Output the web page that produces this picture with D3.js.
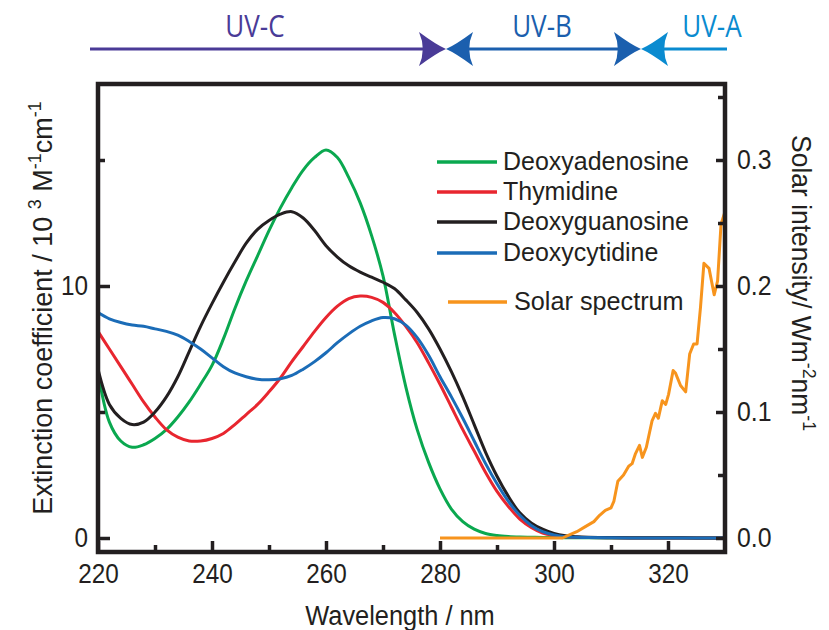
<!DOCTYPE html>
<html><head><meta charset="utf-8">
<script src="https://cdn.jsdelivr.net/npm/d3@7"></script>
<style>
body{margin:0;background:#fff}
svg{display:block;font-family:"Liberation Sans",Arial,sans-serif}
</style>
</head><body>
<svg id="chart" width="829" height="630"></svg>
<script>
// Absorption spectra of the four nucleosides (10^3 M^-1 cm^-1)
const wavelengths = [220,222,224,226,228,230,232,234,236,238,240,242,244,246,248,250,252,254,256,258,260,262,264,266,268,270,272,274,276,278,280,282,284,286,288,290,292,294,296,298,300,302,304,306,310,315,320,325,330];
const deoxyadenosine = [6.6,4.6,3.85,3.6,3.7,3.95,4.3,4.8,5.4,6.1,6.85,7.9,9.1,10.2,11.2,12.2,13.1,13.9,14.6,15.1,15.4,15.1,14.3,13.3,12.0,10.4,8.1,6.0,4.3,3.0,1.95,1.15,0.65,0.35,0.18,0.1,0.06,0.04,0.03,0.02,0.02,0.01,0.01,0.01,0,0,0,0,0];
const thymidine = [8.2,7.5,6.8,6.1,5.4,4.8,4.3,4.0,3.85,3.85,3.95,4.15,4.5,4.9,5.3,5.8,6.35,7.0,7.6,8.2,8.75,9.2,9.5,9.6,9.55,9.35,8.95,8.4,7.75,6.95,6.1,5.2,4.3,3.45,2.6,1.85,1.25,0.75,0.42,0.2,0.1,0.05,0.03,0.02,0.01,0,0,0,0];
const deoxyguanosine = [6.7,5.3,4.75,4.5,4.6,5.0,5.6,6.4,7.4,8.4,9.3,10.15,10.95,11.7,12.25,12.6,12.85,12.95,12.7,12.2,11.6,11.15,10.8,10.55,10.35,10.15,9.9,9.45,8.95,8.3,7.5,6.6,5.6,4.5,3.4,2.45,1.65,1.0,0.6,0.35,0.18,0.09,0.05,0.03,0.02,0.01,0.01,0,0];
const deoxycytidine = [8.95,8.7,8.55,8.45,8.4,8.3,8.2,8.05,7.8,7.5,7.15,6.8,6.55,6.4,6.3,6.28,6.32,6.45,6.7,7.0,7.35,7.75,8.1,8.4,8.62,8.75,8.7,8.45,7.95,7.25,6.4,5.6,4.75,3.85,2.95,2.15,1.45,0.9,0.5,0.25,0.12,0.05,0.03,0.02,0.01,0,0,0,0];

// Ground-level solar spectrum (W m^-2 nm^-1)
const solarWavelengths = [280,301.5,302.5,304,305.5,307,308,309,310,310.5,311.2,312.2,313.1,313.7,314.3,315,315.5,316.2,317.2,317.8,318.3,319,319.6,320.1,320.9,321.3,322.2,323.1,323.8,324.5,325.1,325.7,326.3,327.2,328.1,328.7,329.3,330];
const solarIntensity = [0,0,0.002,0.005,0.009,0.013,0.018,0.022,0.024,0.029,0.045,0.050,0.057,0.059,0.067,0.0735,0.064,0.072,0.093,0.099,0.095,0.109,0.106,0.114,0.133,0.131,0.121,0.116,0.146,0.154,0.154,0.183,0.218,0.214,0.193,0.204,0.249,0.259];

const seriesNames = ["Deoxyadenosine","Thymidine","Deoxyguanosine","Deoxycytidine"];
const seriesValues = [deoxyadenosine, thymidine, deoxyguanosine, deoxycytidine];
const seriesColors = ["#0aa84f","#e8262f","#231f20","#1b6cb7"];
const solarLabel = "Solar spectrum";
const solarColor = "#f7941d";

const xMajorTicks = [220,240,260,280,300,320];
const xMinorTicks = [230,250,270,290,310];
const yLeftMajor = [0,10];
const yLeftMinor = [5,15];
const yRightMajor = [0,0.1,0.2,0.3];
const yRightMinor = [0.05,0.15,0.25,0.35];

const uvBands = [
  {name:"UV-C", color:"#4a3b97"},
  {name:"UV-B", color:"#1b5fae"},
  {name:"UV-A", color:"#0a8bd0"}
];

const ink = "#231f20";
const box = {left:98, right:725, top:84, bottom:552};

const svg = d3.select("#chart");
const x = d3.scaleLinear().domain([220,330]).range([box.left, box.right]);
const yL = d3.scaleLinear().domain([0,10]).range([538,286]);
const yR = d3.scaleLinear().domain([0,0.3]).range([538,160]);

function condense(sel, k){
  sel.each(function(){
    const L = this.getComputedTextLength();
    d3.select(this).attr("textLength", L*k).attr("lengthAdjust","spacingAndGlyphs");
  });
}

// Spectra
const line = d3.line().x(d=>x(d[0])).y(d=>yL(d[1])).curve(d3.curveCatmullRom.alpha(0.5));
const gLines = svg.append("g");
seriesValues.forEach((vals,i)=>{
  gLines.append("path")
    .attr("d", line(wavelengths.map((w,j)=>[w, vals[j]])))
    .attr("fill","none").attr("stroke",seriesColors[i]).attr("stroke-width",3)
    .attr("stroke-linejoin","round");
});
const solarLine = d3.line().x(d=>x(d[0])).y(d=>yR(d[1]));
gLines.append("path")
  .attr("d", solarLine(solarWavelengths.map((w,j)=>[w, solarIntensity[j]])))
  .attr("fill","none").attr("stroke",solarColor).attr("stroke-width",3)
  .attr("stroke-linejoin","round");

// Axes with inward ticks
function styleAxis(g){
  g.select(".domain").remove();
  g.selectAll(".tick line").attr("stroke",ink).attr("stroke-width",3.5);
  g.selectAll(".tick text").attr("fill",ink).style("font-size","27px")
   .style("font-family",'"Liberation Sans",Arial,sans-serif');
}
svg.append("g").attr("transform",`translate(0,${box.bottom})`)
  .call(d3.axisBottom(x).tickValues(xMinorTicks).tickSize(-7).tickFormat(""))
  .call(styleAxis);
const gx = svg.append("g").attr("transform",`translate(0,${box.bottom})`)
  .call(d3.axisBottom(x).tickValues(xMajorTicks).tickSize(-11).tickPadding(12).tickFormat(d3.format("d")))
  .call(styleAxis);
condense(gx.selectAll(".tick text"), 0.9);

svg.append("g").attr("transform",`translate(${box.left},0)`)
  .call(d3.axisLeft(yL).tickValues(yLeftMinor).tickSize(-7).tickFormat(""))
  .call(styleAxis);
const gyl = svg.append("g").attr("transform",`translate(${box.left},0)`)
  .call(d3.axisLeft(yL).tickValues(yLeftMajor).tickSize(-12).tickPadding(10).tickFormat(d3.format("d")))
  .call(styleAxis);
condense(gyl.selectAll(".tick text"), 0.9);

svg.append("g").attr("transform",`translate(${box.right},0)`)
  .call(d3.axisRight(yR).tickValues(yRightMinor).tickSize(-7).tickFormat(""))
  .call(styleAxis);
const gyr = svg.append("g").attr("transform",`translate(${box.right},0)`)
  .call(d3.axisRight(yR).tickValues(yRightMajor).tickSize(-9).tickPadding(12).tickFormat(d3.format(".1f")))
  .call(styleAxis);
condense(gyr.selectAll(".tick text"), 0.92);

// Frame
svg.append("rect").attr("x",box.left).attr("y",box.top)
  .attr("width",box.right-box.left).attr("height",box.bottom-box.top)
  .attr("fill","none").attr("stroke",ink).attr("stroke-width",4.5);

// Axis titles
const xt = svg.append("text").attr("x",400).attr("y",625).attr("text-anchor","middle")
  .attr("fill",ink).style("font-size","27px").text("Wavelength / nm");
condense(xt, 0.94);

const ylab = svg.append("g").attr("transform","translate(52,308) rotate(-90)")
  .append("text").attr("text-anchor","middle").attr("fill",ink).style("font-size","27px");
ylab.append("tspan").text("Extinction coefficient / 10 ");
ylab.append("tspan").attr("dy",-11).style("font-size","18px").text("3");
ylab.append("tspan").attr("dy",11).text(" M");
ylab.append("tspan").attr("dy",-11).style("font-size","18px").text("-1");
ylab.append("tspan").attr("dy",11).text("cm");
ylab.append("tspan").attr("dy",-11).style("font-size","18px").text("-1");

const yrlab = svg.append("g").attr("transform","translate(792,283) rotate(90) scale(0.98,1)")
  .append("text").attr("text-anchor","middle").attr("fill",ink).style("font-size","27px");
yrlab.append("tspan").text("Solar intensity/ Wm");
yrlab.append("tspan").attr("dy",-11).style("font-size","18px").text("-2");
yrlab.append("tspan").attr("dy",11).text("nm");
yrlab.append("tspan").attr("dy",-11).style("font-size","18px").text("-1");

// Legend
const legendRows = [162,192,222,253];
const gLeg = svg.append("g");
seriesNames.forEach((name,i)=>{
  gLeg.append("line").attr("x1",437).attr("x2",497).attr("y1",legendRows[i]).attr("y2",legendRows[i])
    .attr("stroke",seriesColors[i]).attr("stroke-width",3.5);
  const t = gLeg.append("text").attr("x",503).attr("y",legendRows[i]+8).attr("fill",ink)
    .style("font-size","26px").text(name);
  condense(t, 0.96);
});
gLeg.append("line").attr("x1",448).attr("x2",507).attr("y1",302).attr("y2",302)
  .attr("stroke",solarColor).attr("stroke-width",3.5);
condense(gLeg.append("text").attr("x",514).attr("y",310).attr("fill",ink)
  .style("font-size","26px").text(solarLabel), 0.97);

// UV band arrows along the top
const arrowY = 49;
const gUV = svg.append("g");
function arrowHead(tipX, dir, color){
  const L = 27*dir, h = 17;
  const p = d3.path();
  p.moveTo(tipX - L, arrowY - h);
  p.quadraticCurveTo(tipX - L*0.35, arrowY - 4, tipX, arrowY);
  p.quadraticCurveTo(tipX - L*0.35, arrowY + 4, tipX - L, arrowY + h);
  p.quadraticCurveTo(tipX - L*0.72, arrowY, tipX - L, arrowY - h);
  p.closePath();
  gUV.append("path").attr("d", p.toString()).attr("fill", color);
}
const bandLineStart = 90, bandLineEnd = 727;
const tipCB = 446, tipBA = 641;
gUV.append("line").attr("x1",bandLineStart).attr("x2",tipCB-20).attr("y1",arrowY).attr("y2",arrowY)
  .attr("stroke",uvBands[0].color).attr("stroke-width",3);
arrowHead(tipCB, 1, uvBands[0].color);
gUV.append("line").attr("x1",tipCB+20).attr("x2",tipBA-20).attr("y1",arrowY).attr("y2",arrowY)
  .attr("stroke",uvBands[1].color).attr("stroke-width",3);
arrowHead(tipCB, -1, uvBands[1].color);
arrowHead(tipBA, 1, uvBands[1].color);
gUV.append("line").attr("x1",tipBA+20).attr("x2",bandLineEnd).attr("y1",arrowY).attr("y2",arrowY)
  .attr("stroke",uvBands[2].color).attr("stroke-width",3);
arrowHead(tipBA, -1, uvBands[2].color);

const uvLabelX = [255, 542, 712];
uvBands.forEach((b,i)=>{
  const t = gUV.append("text").attr("x",uvLabelX[i]).attr("y",37).attr("text-anchor","middle")
    .attr("fill",b.color).style("font-size","31px").style("font-family",'"Open Sans","Liberation Sans",sans-serif')
    .text(b.name);
  condense(t, 0.84);
});
</script>
</body></html>
